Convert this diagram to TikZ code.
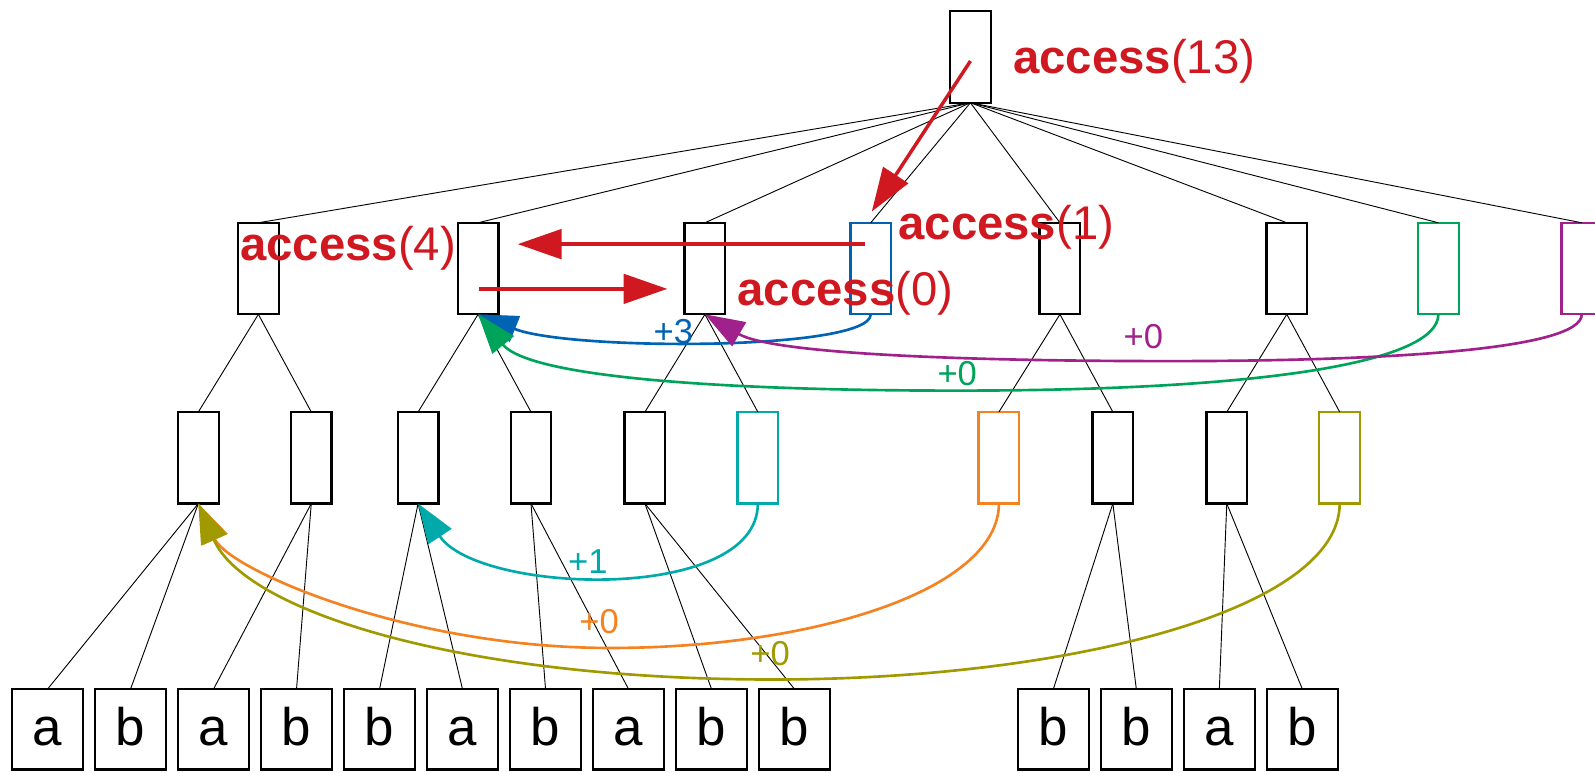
\documentclass[tikz,border=0pt]{standalone}
\usepackage{fontspec}
\setmainfont{Liberation Sans}
\usetikzlibrary{arrows.meta}
\definecolor{cred}{RGB}{208,24,32}
\definecolor{cblue}{RGB}{0,98,178}
\definecolor{cgreen}{RGB}{0,163,90}
\definecolor{cpurple}{RGB}{160,32,140}
\definecolor{ccyan}{RGB}{0,170,170}
\definecolor{corange}{RGB}{245,130,32}
\definecolor{colive}{RGB}{160,154,0}
\begin{document}
\begin{tikzpicture}[x=1pt,y=-1pt,
 box/.style={draw,line width=2.2pt,minimum width=40pt,minimum height=90pt,inner sep=0pt,outer sep=0pt},
 leaf/.style={draw,line width=2.2pt,minimum width=70pt,minimum height=79pt,inner sep=0pt,outer sep=0pt,text height=37pt,text depth=6pt,font=\fontsize{52}{52}\selectfont},
 edge/.style={line width=0.9pt},
 curve/.style={line width=2.6pt,-{Triangle[length=39pt,width=27pt]}},
 redarrow/.style={cred,line width=3.4pt,-{Triangle[length=43pt,width=29pt]}},
 acc/.style={text=cred,inner sep=0pt,anchor=base west,font=\fontsize{46.5}{46.5}\selectfont},
 num/.style={inner sep=0pt,font=\fontsize{34}{34}\selectfont}]
\useasboundingbox (0,0) rectangle (1568,759);
% root
\node[box] (r) at (954,56) {};
% level 1
\node[box] (a) at (254,264) {};
\node[box] (b) at (470,264) {};
\node[box] (c) at (693,264) {};
\node[box,cblue] (d) at (856,264) {};
\node[box] (e) at (1042,264) {};
\node[box] (f) at (1265,264) {};
\node[box,cgreen] (g) at (1414,264) {};
\node[box,cpurple] (h) at (1555,264) {};
% level 2
\node[box] (m1) at (195,450) {};
\node[box] (m2) at (306,450) {};
\node[box] (m3) at (411,450) {};
\node[box] (m4) at (522,450) {};
\node[box] (m5) at (634,450) {};
\node[box,ccyan] (m6) at (745,450) {};
\node[box,corange] (m7) at (982,450) {};
\node[box] (m8) at (1094,450) {};
\node[box] (m9) at (1206,450) {};
\node[box,colive] (m10) at (1317,450) {};
% leaves
\node[leaf] (l1) at (46.7,717) {a};
\node[leaf] (l2) at (128.3,717) {b};
\node[leaf] (l3) at (209.9,717) {a};
\node[leaf] (l4) at (291.5,717) {b};
\node[leaf] (l5) at (373.1,717) {b};
\node[leaf] (l6) at (454.7,717) {a};
\node[leaf] (l7) at (536.3,717) {b};
\node[leaf] (l8) at (617.9,717) {a};
\node[leaf] (l9) at (699.5,717) {b};
\node[leaf] (l10) at (781.1,717) {b};
\node[leaf] (l11) at (1035.5,717) {b};
\node[leaf] (l12) at (1117.1,717) {b};
\node[leaf] (l13) at (1198.7,717) {a};
\node[leaf] (l14) at (1280.3,717) {b};
% tree edges
\foreach \n in {a,b,c,d,e,f,g,h} \draw[edge] (r.south) -- (\n.north);
\draw[edge] (a.south) -- (m1.north); \draw[edge] (a.south) -- (m2.north);
\draw[edge] (b.south) -- (m3.north); \draw[edge] (b.south) -- (m4.north);
\draw[edge] (c.south) -- (m5.north); \draw[edge] (c.south) -- (m6.north);
\draw[edge] (e.south) -- (m7.north); \draw[edge] (e.south) -- (m8.north);
\draw[edge] (f.south) -- (m9.north); \draw[edge] (f.south) -- (m10.north);
\draw[edge] (m1.south) -- (l1.north); \draw[edge] (m1.south) -- (l2.north);
\draw[edge] (m2.south) -- (l3.north); \draw[edge] (m2.south) -- (l4.north);
\draw[edge] (m3.south) -- (l5.north); \draw[edge] (m3.south) -- (l6.north);
\draw[edge] (m4.south) -- (l7.north); \draw[edge] (m4.south) -- (l8.north);
\draw[edge] (m5.south) -- (l9.north); \draw[edge] (m5.south) -- (l10.north);
\draw[edge] (m8.south) -- (l11.north); \draw[edge] (m8.south) -- (l12.north);
\draw[edge] (m9.south) -- (l13.north); \draw[edge] (m9.south) -- (l14.north);
% colored curves
\draw[curve,cblue] (d.south) .. controls (856,345) and (560,345) .. (b.south);
\draw[curve,cgreen] (g.south) .. controls (1414,355) and (1250,384) .. (941,384) .. controls (700,384) and (520,370) .. (b.south);
\draw[curve,cpurple] (h.south) .. controls (1555,345) and (1350,355) .. (1150,355) .. controls (950,355) and (760,348) .. (c.south);
\draw[curve,ccyan] (m6.south) .. controls (745,594) and (470,584) .. (m3.south);
\draw[curve,corange] (m7.south) .. controls (982,580) and (800,637) .. (600,637) .. controls (400,637) and (225,560) .. (m1.south);
\draw[curve,colive] (m10.south) .. controls (1317,600) and (1050,668) .. (760,668) .. controls (450,668) and (240,600) .. (m1.south);
% labels on curves
\node[num,text=cblue] (t1) at (662,326) {+3};
\node[num,text=cpurple] (t2) at (1124,331) {+0};
\node[num,text=cgreen] (t3) at (941,367) {+0};
\node[num,text=ccyan] (t4) at (578,552) {+1};
\node[num,text=corange] (t5) at (589,611) {+0};
\node[num,text=colive] (t6) at (757,643) {+0};
% red access arrows
\coordinate (s13) at (954,60);
\coordinate (e13) at (857,208);
\coordinate (s1) at (850,240);
\coordinate (e1) at (509,240);
\coordinate (s0) at (471,284);
\coordinate (e0) at (656,284);
\draw[redarrow] (s13) -- (e13);
\draw[redarrow] (s1) -- (e1);
\draw[redarrow] (s0) -- (e0);
\node[acc] (k13) at (996,72) {\textbf{access}(13)};
\node[acc] (k1) at (883,235) {\textbf{access}(1)};
\node[acc] (k0) at (725,300) {\textbf{access}(0)};
\node[acc] (k4) at (236,256) {\textbf{access}(4)};
\end{tikzpicture}
\end{document}
